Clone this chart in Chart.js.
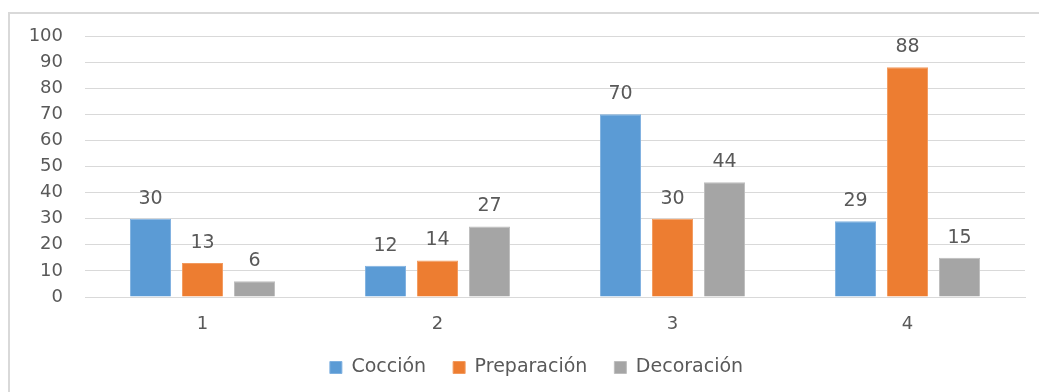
<!DOCTYPE html>
<html>
<head>
<meta charset="utf-8">
<script src="https://cdn.jsdelivr.net/npm/chart.js@4"></script>
<style>
  html, body { margin: 0; padding: 0; background: #fff; overflow: hidden; }
  #frame { position: absolute; left: 8px; top: 12px; width: 1060px; height: 420px; border: 2px solid #d9d9d9; }
  #wrap { position: absolute; left: 0; top: 0; width: 1039px; height: 392px; }
</style>
</head>
<body>
<div id="frame"></div>
<div id="wrap"><canvas id="chart" width="1039" height="392"></canvas></div>
<script>
const categories = ['1', '2', '3', '4'];
const coccion = [30, 12, 70, 29];
const preparacion = [13, 14, 30, 88];
const decoracion = [6, 27, 44, 15];
const seriesNames = ['Cocción', 'Preparación', 'Decoración'];

const TEXT = '#595959';
const FONT = 'DejaVu Sans';

// Writes each bar's value just above it
const valueLabels = {
  id: 'valueLabels',
  afterDatasetsDraw(chart) {
    const ctx = chart.ctx;
    ctx.save();
    ctx.font = '19px "' + FONT + '"';
    ctx.fillStyle = TEXT;
    ctx.textAlign = 'center';
    ctx.textBaseline = 'middle';
    chart.data.datasets.forEach((ds, i) => {
      chart.getDatasetMeta(i).data.forEach((bar, j) => {
        ctx.fillText(String(ds.data[j]), bar.x, bar.y - 20);
      });
    });
    ctx.restore();
  }
};

// The legend sits centred on the outer frame rather than on the canvas
const legendShift = {
  id: 'legendShift',
  afterLayout(chart) {
    const lg = chart.legend;
    lg.left += 24; lg.right += 24;
    lg.top += 2; lg.bottom += 2;
  }
};

new Chart(document.getElementById('chart'), {
  type: 'bar',
  data: {
    labels: categories,
    datasets: [
      { label: seriesNames[0], data: coccion, backgroundColor: '#5b9bd5', borderColor: '#7fb1e0', borderWidth: 1 },
      { label: seriesNames[1], data: preparacion, backgroundColor: '#ed7d31', borderColor: '#f29a5e', borderWidth: 1 },
      { label: seriesNames[2], data: decoracion, backgroundColor: '#a5a5a5', borderColor: '#bdbdbd', borderWidth: 1 }
    ]
  },
  options: {
    responsive: false,
    animation: false,
    events: [],
    layout: { padding: { top: 36, right: 14, bottom: 7, left: 0 } },
    datasets: { bar: { categoryPercentage: 0.664, barPercentage: 0.79 } },
    scales: {
      x: {
        grid: { display: false, drawTicks: false },
        border: { display: true, color: '#d9d9d9', width: 1 },
        ticks: { color: TEXT, font: { family: FONT, size: 18 }, padding: 17 },
        afterFit(s) { s.height = 32; }
      },
      y: {
        min: 0, max: 100,
        grid: { color: '#d9d9d9', lineWidth: 1, drawTicks: false },
        border: { display: false },
        ticks: { stepSize: 10, color: TEXT, font: { family: FONT, size: 18 }, padding: 22 },
        afterFit(s) { s.width = 85; }
      }
    },
    plugins: {
      legend: {
        position: 'bottom',
        labels: {
          color: TEXT,
          font: { family: FONT, size: 19 },
          boxWidth: 12, boxHeight: 12,
          padding: 27
        }
      },
      tooltip: { enabled: false }
    }
  },
  plugins: [valueLabels, legendShift]
});
</script>
</body>
</html>
